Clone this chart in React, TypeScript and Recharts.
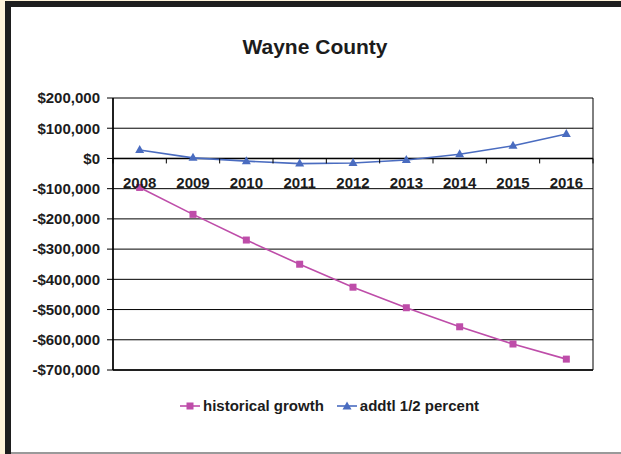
import { LineChart, Line, XAxis, YAxis, CartesianGrid, Legend, ReferenceLine } from "recharts"

// values
const years = ["2008", "2009", "2010", "2011", "2012", "2013", "2014", "2015", "2016"]
const historicalGrowth = [-96000, -185000, -270000, -350000, -426000, -494000, -557000, -614000, -664000]
const addtlHalfPercent = [28000, 2000, -9000, -17000, -15000, -5000, 14000, 42000, 81000]
const yTicks = [200000, 100000, 0, -100000, -200000, -300000, -400000, -500000, -600000, -700000]
const seriesOrder = ["historical", "addtl"]

const PINK = "#BE4DA9"
const BLUE = "#4A6CC0"
const FONT = "'Liberation Sans', Arial, sans-serif"
const TEXT = "#1c1c1c"

const W = 621
const H = 454
const X_AXIS_H = 1
const MARGIN = { top: 98, right: 28, left: 0, bottom: 84 - X_AXIS_H }
const Y_AXIS_W = 113
const PLOT_W = W - MARGIN.left - MARGIN.right - Y_AXIS_W
const PLOT_H = H - MARGIN.top - MARGIN.bottom - X_AXIS_H
const HALF_BAND = PLOT_W / years.length / 2
const Y_MAX = yTicks[0]
const Y_MIN = yTicks[yTicks.length - 1]

const data = years.map((year, i) => ({
  year,
  historical: historicalGrowth[i],
  addtl: addtlHalfPercent[i],
}))

const money = (v: number) => (v < 0 ? "-$" : "$") + Math.abs(v).toLocaleString("en-US")

// category labels sit on the $0 line, tick marks between categories
function YearTick(props: any) {
  const { x, payload, index } = props
  const zeroY = MARGIN.top + (PLOT_H * Y_MAX) / (Y_MAX - Y_MIN)
  return (
    <g>
      <line x1={x - HALF_BAND} x2={x - HALF_BAND} y1={zeroY} y2={zeroY + 5} stroke="#000" />
      {index === years.length - 1 && (
        <line x1={x + HALF_BAND} x2={x + HALF_BAND} y1={zeroY} y2={zeroY + 5} stroke="#000" />
      )}
      <text x={x} y={zeroY + 30} textAnchor="middle" fill={TEXT} fontSize={15} fontWeight="bold" fontFamily={FONT}>
        {payload.value}
      </text>
    </g>
  )
}

const squareDot = (p: any) => <rect key={p.key} x={p.cx - 3.5} y={p.cy - 3.5} width={7} height={7} fill={PINK} />
const triangleDot = (p: any) => (
  <polygon key={p.key} points={`${p.cx},${p.cy - 5} ${p.cx - 4.5},${p.cy + 3} ${p.cx + 4.5},${p.cy + 3}`} fill={BLUE} />
)

function LegendIcon({ color, shape }: { color: string; shape: string }) {
  return (
    <svg width={20} height={10} style={{ display: "block" }}>
      <line x1={0} x2={20} y1={5} y2={5} stroke={color} strokeWidth={1.6} />
      {shape === "square" ? (
        <rect x={6.5} y={1.5} width={7} height={7} fill={color} />
      ) : (
        <polygon points="10,0.5 5.5,8.5 14.5,8.5" fill={color} />
      )}
    </svg>
  )
}

const renderLegend = (props: any) => {
  const items = [...props.payload].sort(
    (a: any, b: any) => seriesOrder.indexOf(a.dataKey) - seriesOrder.indexOf(b.dataKey)
  )
  return (
    <div style={{ display: "flex", alignItems: "center", fontFamily: FONT, fontWeight: "bold", fontSize: 15, color: TEXT }}>
      {items.map((item: any, i: number) => (
        <div key={item.value} style={{ display: "flex", alignItems: "center", marginLeft: i === 0 ? 0 : 13 }}>
          <LegendIcon color={item.color} shape={item.dataKey === "historical" ? "square" : "triangle"} />
          <span style={{ marginLeft: 3 }}>{item.value}</span>
        </div>
      ))}
    </div>
  )
}

export default function App() {
  return (
    <div style={{ position: "absolute", left: 0, top: 0, width: W, height: H, background: "#FFF4DA", overflow: "hidden" }}>
      <div
        style={{
          position: "absolute",
          left: 5,
          top: 1,
          right: 0,
          bottom: 0,
          background: "#fff",
          borderLeft: "6px solid #1e1e1e",
          borderTop: "6px solid #1e1e1e",
        }}
      />
      <div style={{ position: "absolute", left: 11, right: 0, top: 452, height: 2, background: "#9a9a9a" }} />
      <div
        style={{
          position: "absolute",
          left: 0,
          width: 630,
          top: 35,
          textAlign: "center",
          fontFamily: FONT,
          fontWeight: "bold",
          fontSize: 21,
          color: TEXT,
        }}
      >
        Wayne County
      </div>
      <div style={{ position: "absolute", left: 0, top: 0 }}>
        <LineChart width={W} height={H} data={data} margin={MARGIN}>
          <CartesianGrid
            stroke="#000"
            verticalCoordinatesGenerator={({ offset }: any) => [offset.left, offset.left + offset.width]}
          />
          <XAxis
            dataKey="year"
            height={X_AXIS_H}
            interval={0}
            padding={{ left: HALF_BAND, right: HALF_BAND }}
            tickLine={false}
            axisLine={{ stroke: "#000", strokeWidth: 1.5 }}
            tick={(p: any) => <YearTick {...p} />}
          />
          <YAxis
            width={Y_AXIS_W}
            domain={[Y_MIN, Y_MAX]}
            ticks={yTicks}
            interval={0}
            tickFormatter={money}
            tickSize={6}
            tickMargin={7}
            tickLine={{ stroke: "#000" }}
            axisLine={{ stroke: "#000", strokeWidth: 1.5 }}
            tick={{ fill: TEXT, fontSize: 15, fontWeight: "bold", fontFamily: FONT }}
          />
          <ReferenceLine y={0} stroke="#000" strokeWidth={1.5} />
          <Line
            dataKey="historical"
            name="historical growth"
            stroke={PINK}
            strokeWidth={1.6}
            dot={squareDot}
            activeDot={false}
            isAnimationActive={false}
          />
          <Line
            dataKey="addtl"
            name="addtl 1/2 percent"
            stroke={BLUE}
            strokeWidth={1.6}
            dot={triangleDot}
            activeDot={false}
            isAnimationActive={false}
          />
          <Legend
            layout="horizontal"
            verticalAlign="middle"
            align="center"
            content={renderLegend}
            wrapperStyle={{ position: "absolute", left: 180, top: 397, width: 340 }}
          />
        </LineChart>
      </div>
    </div>
  )
}
